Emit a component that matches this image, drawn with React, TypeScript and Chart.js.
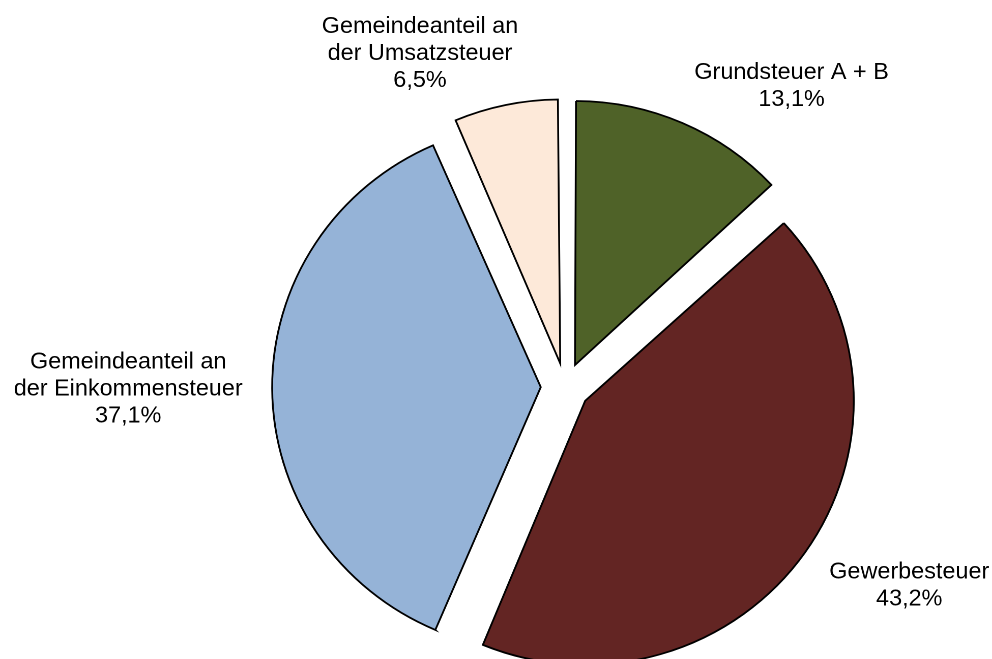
import React, { useEffect, useRef } from "react";
import { Chart, registerables } from "chart.js";

Chart.register(...registerables);

const categories: string[][] = [
  ["Grundsteuer A + B"],
  ["Gewerbesteuer"],
  ["Gemeindeanteil an", "der Einkommensteuer"],
  ["Gemeindeanteil an", "der Umsatzsteuer"],
];
const shares: number[] = [13.1, 43.2, 37.1, 6.5];
const sliceColors: string[] = ["#4F6228", "#632523", "#95B3D7", "#FDE9D9"];

const FONT = '23px "Liberation Sans", Arial, sans-serif';
const LINE_H = 27;
const EXPLODE = 96; // Chart.js translates arcs by offset/4
const GAP_X = 29;
const GAP_Y = 11;
const SNAP = 4;
// the reference is drawn slightly wider than tall
const DRAW_W = 975;
const DRAW_H = 659;
const VIEW_W = 992;
const VIEW_H = 659;

const fmt = (v: number) => v.toFixed(1).replace(".", ",") + "%";

const radiusFix = {
  id: "radiusFix",
  afterDatasetUpdate(chart: any, args: any) {
    const meta = chart.getDatasetMeta(args.index);
    meta.data.forEach((arc: any) => {
      const off = ((arc.options && arc.options.offset) || EXPLODE) / 4;
      const fix = 1 - Math.sin(Math.min(Math.PI, arc.circumference || 0));
      arc.outerRadius = arc.outerRadius - off * fix;
    });
  },
};

const outsideLabels = {
  id: "outsideLabels",
  afterDatasetsDraw(chart: any) {
    const ctx = chart.ctx;
    const meta = chart.getDatasetMeta(0);
    ctx.save();
    ctx.font = FONT;
    ctx.fillStyle = "#000000";
    ctx.textAlign = "center";
    ctx.textBaseline = "middle";
    const clamp = (v: number) => Math.max(-1, Math.min(1, v));
    meta.data.forEach((arc: any, i: number) => {
      const off = ((arc.options && arc.options.offset) || EXPLODE) / 4;
      const fix = 1 - Math.sin(Math.min(Math.PI, arc.circumference || 0));
      const mid = (arc.startAngle + arc.endAngle) / 2;
      const ux = Math.cos(mid);
      const uy = Math.sin(mid);
      const ax = arc.x + ux * off;
      const ay = arc.y + uy * off;
      const r = arc.outerRadius + off * fix;
      const px = ax + ux * (r + GAP_X);
      const py = ay + uy * (r + GAP_Y);
      const lines = [...categories[i], fmt(shares[i])];
      const w = Math.max(...lines.map((l) => ctx.measureText(l).width));
      const h = lines.length * LINE_H;
      const cx = px + (w / 2) * clamp(SNAP * ux);
      const cy = py + (h / 2) * clamp(SNAP * uy);
      lines.forEach((l, k) => {
        ctx.fillText(l, cx, cy - h / 2 + LINE_H * (k + 0.5));
      });
    });
    ctx.restore();
  },
};

export default function App() {
  const ref = useRef<HTMLCanvasElement | null>(null);
  useEffect(() => {
    if (!ref.current) return;
    const chart = new Chart(ref.current, {
      type: "pie",
      data: {
        labels: categories,
        datasets: [
          {
            data: shares,
            backgroundColor: sliceColors,
            borderColor: "#000000",
            borderWidth: 1.8,
            borderJoinStyle: "miter",
            offset: EXPLODE,
            radius: 264,
            clip: false,
          } as any,
        ],
      },
      options: {
        responsive: false,
        animation: false,
        devicePixelRatio: 2,
        events: [],
        layout: { padding: { left: 136, right: 0, top: 115, bottom: 0 } },
        plugins: {
          legend: { display: false },
          tooltip: { enabled: false },
          title: { display: false },
        },
      } as any,
      plugins: [radiusFix, outsideLabels],
    });
    return () => chart.destroy();
  }, []);
  return (
    <div style={{ position: "absolute", left: 0, top: 0, width: VIEW_W, height: VIEW_H, background: "#ffffff", overflow: "hidden" }}>
      <canvas
        ref={ref}
        width={DRAW_W}
        height={DRAW_H}
        style={{ display: "block", width: VIEW_W + "px", height: VIEW_H + "px" }}
      />
    </div>
  );
}
